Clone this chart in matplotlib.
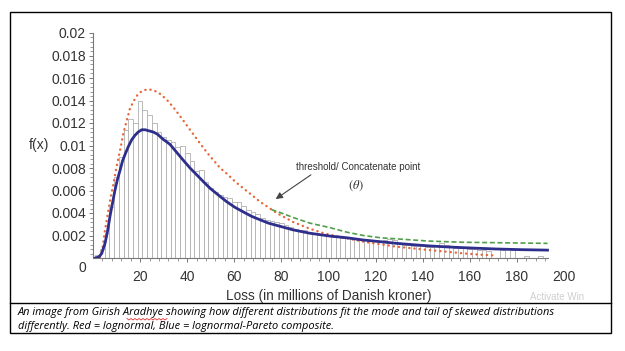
import numpy as np
import matplotlib
matplotlib.use("Agg")
import matplotlib.pyplot as plt
from matplotlib.ticker import FixedLocator
from matplotlib.patches import Rectangle
from matplotlib.lines import Line2D

plt.rcParams['font.family'] = ['Liberation Sans', 'DejaVu Sans']
plt.rcParams['mathtext.fontset'] = 'stix'

# histogram of losses (bin centres every 2 million DKK)
bin_centers = list(range(2, 192, 2))
bin_heights = [
    0.0003, 0.0008, 0.0022, 0.0045, 0.0072, 0.0090, 0.0114, 0.0124, 0.0120, 0.0140,
    0.0132, 0.0127, 0.0120, 0.0112, 0.0108, 0.0105, 0.0103, 0.0099, 0.0100, 0.0093,
    0.0086, 0.0077, 0.0078, 0.0068, 0.0062, 0.0059, 0.0056, 0.0054, 0.0053, 0.0050,
    0.0050, 0.0046, 0.0043, 0.0041, 0.0039, 0.0036, 0.0034, 0.0033, 0.0032, 0.0031,
    0.0029, 0.0028, 0.0026, 0.0025, 0.0025, 0.0023, 0.0022, 0.0021, 0.0021, 0.0020,
    0.0019, 0.0019, 0.0018, 0.0018, 0.0017, 0.0017, 0.0016, 0.0016, 0.0015, 0.0015,
    0.0015, 0.0016, 0.0017, 0.0016, 0.0013, 0.0012, 0.0012, 0.0011, 0.0011, 0.0011,
    0.0010, 0.0010, 0.0012, 0.0013, 0.0012, 0.0010, 0.0009, 0.0009, 0.0009, 0.0008,
    0.0008, 0.0007, 0.0007, 0.0006, 0.0, 0.0, 0.0007, 0.0, 0.0007, 0.0,
    0.0, 0.0002, 0.0, 0.0, 0.0002,
]

# lognormal-Pareto composite (blue)
blue_x = [1.0, 2.5, 3.7, 5.1, 6.2, 7.2, 8.3, 9.3, 10.4, 11.5, 12.5, 13.6, 15.0, 16.4,
          17.8, 19.2, 20.7, 22.1, 23.8, 25.6, 27.4, 29.5, 32.7, 35.5, 38.3, 41.2, 44.0,
          46.8, 49.7, 53.2, 56.8, 60.3, 63.8, 67.4, 70.9, 74.5, 78.0, 85.0, 92.1, 100.6,
          107.7, 114.8, 122.0, 129.0, 136.0, 143.0, 150.0, 157.0, 164.0, 171.4, 182.0, 193.0]
blue_y = [0.0, 0.0001, 0.0004, 0.0013, 0.0024, 0.0037, 0.0049, 0.0060, 0.0070, 0.0078,
          0.0086, 0.0092, 0.0099, 0.0105, 0.0109, 0.0112, 0.0114, 0.0114, 0.0113, 0.0112,
          0.0110, 0.0106, 0.0101, 0.0094, 0.0087, 0.0080, 0.0074, 0.0068, 0.0062, 0.0056,
          0.0050, 0.0045, 0.0041, 0.0037, 0.0034, 0.0031, 0.0029, 0.0025, 0.0022, 0.00195,
          0.0018, 0.0016, 0.00145, 0.0013, 0.00118, 0.00107, 0.00099, 0.00092, 0.00086,
          0.0008, 0.00074, 0.0007]

# lognormal (red)
red_x = [3.0, 4.0, 5.1, 6.5, 7.6, 8.6, 9.7, 10.8, 11.9, 12.9, 14.3, 15.7, 17.4, 19.2,
         21.3, 23.5, 25.9, 28.4, 31.2, 34.1, 37.0, 39.8, 42.6, 45.4, 48.3, 51.1, 54.0,
         56.8, 60.3, 63.8, 67.4, 70.9, 74.5, 78.0, 81.5, 85.0, 92.1, 98.0, 104.2, 114.8,
         122.0, 129.0, 136.0, 143.0, 150.0, 157.0, 164.0, 170.7]
red_y = [0.0001, 0.0008, 0.0025, 0.0042, 0.0055, 0.0065, 0.0078, 0.0089, 0.0100, 0.0111,
         0.0122, 0.0133, 0.0140, 0.0146, 0.0149, 0.0150, 0.0149, 0.0146, 0.0141, 0.0134,
         0.0126, 0.0118, 0.0110, 0.0102, 0.0094, 0.0087, 0.0080, 0.0075, 0.0068, 0.0062,
         0.0056, 0.0050, 0.0045, 0.0040, 0.0036, 0.0032, 0.0026, 0.0022, 0.0019, 0.00145,
         0.00122, 0.0010, 0.00085, 0.0007, 0.00056, 0.00042, 0.0003, 0.00022]

# Pareto tail above the threshold (green)
green_x = [75.8, 80.0, 85.0, 92.1, 100.6, 107.7, 114.8, 122.0, 129.0, 136.0, 143.0,
           157.0, 171.4, 193.0]
green_y = [0.0043, 0.0040, 0.0036, 0.0031, 0.0027, 0.0023, 0.0020, 0.0018, 0.0017,
           0.0016, 0.0015, 0.0014, 0.00136, 0.0013]

x_ticks = [20, 40, 60, 80, 100, 120, 140, 160, 180, 200]
y_ticks = [0.002, 0.004, 0.006, 0.008, 0.01, 0.012, 0.014, 0.016, 0.018, 0.02]
y_labels = ["0.002", "0.004", "0.006", "0.008", "0.01", "0.012", "0.014", "0.016", "0.018", "0.02"]

fig = plt.figure(figsize=(6.25, 3.51), dpi=100)
ax = fig.add_axes([93 / 625, 1 - 258 / 351, 471 / 625, 225 / 351])

hx = [c for c, h in zip(bin_centers, bin_heights) if h > 0]
hy = [h for h in bin_heights if h > 0]
ax.bar(hx, hy, width=2, facecolor='white', edgecolor='#b0b0b0', linewidth=0.6, zorder=1)

ax.plot(red_x, red_y, color='#e6683a', lw=1.7, linestyle=(0, (0.1, 2.1)),
        dash_capstyle='round', zorder=3)
ax.plot(green_x, green_y, color='#4f9f4a', lw=1.2, linestyle=(0, (3, 1.6)), zorder=3)
ax.plot(blue_x, blue_y, color='#2e2e8c', lw=2.0, zorder=4)

ax.set_xlim(0, 200)
ax.set_ylim(0, 0.02)
for s in ['top', 'right']:
    ax.spines[s].set_visible(False)
ax.spines['bottom'].set_bounds(0, 193)
ax.spines['left'].set_color('#777777')
ax.spines['bottom'].set_color('#777777')
ax.spines['left'].set_linewidth(0.8)
ax.spines['bottom'].set_linewidth(0.8)

ax.set_xticks(x_ticks)
ax.xaxis.set_minor_locator(FixedLocator(np.arange(4, 193, 4)))
ax.set_yticks(y_ticks)
ax.set_yticklabels(y_labels)
ax.yaxis.set_minor_locator(FixedLocator(np.arange(0.0004, 0.0201, 0.0004)))
ax.tick_params(axis='both', which='major', length=3, width=0.7, color='#777777',
               labelsize=10, labelcolor='#333333')
ax.tick_params(axis='both', which='minor', length=2, width=0.6, color='#888888')
ax.tick_params(axis='x', which='major', pad=5.5)
ax.tick_params(axis='y', which='major', pad=2)
ax.xaxis.get_major_ticks()[-1].tick1line.set_visible(False)

ax.annotate('0', xy=(0, 0), xytext=(-5, -2), textcoords='offset points',
            ha='right', va='top', fontsize=10, color='#333333')
ax.text(-0.115, 0.5, 'f(x)', transform=ax.transAxes, ha='center', va='center',
        fontsize=10, color='#333333')
ax.set_xlabel('Loss (in millions of Danish kroner)', fontsize=9.8, color='#333333', labelpad=4)

ax.annotate('', xy=(76.6, 0.0051), xytext=(93.5, 0.00753),
            arrowprops=dict(arrowstyle='-|>', color='#444444', lw=0.8, mutation_scale=10))
ax.text(86.2, 0.0081, 'threshold/ Concatenate point', fontsize=7, color='#333333',
        ha='left', va='center')
ax.text(111.7, 0.0064, r'$(\theta)$', fontsize=9, color='#333333', ha='center', va='center')

# frame and caption
fig.add_artist(Rectangle((10 / 625, 1 - 333 / 351), 601 / 625, 321 / 351, fill=False,
                         lw=1.0, edgecolor='black', transform=fig.transFigure))
fig.add_artist(Line2D([10 / 625, 611 / 625], [1 - 303 / 351] * 2, lw=1.0, color='black',
                      transform=fig.transFigure))
fig.text(530 / 625, 1 - 297 / 351, 'Activate Win', fontsize=7, color='#cfcfcf',
         ha='left', va='center')
cap_font = dict(family=['Open Sans', 'DejaVu Sans'], style='italic', fontsize=7.9, color='black')
fig.text(18 / 625, 1 - 313 / 351,
         'An image from Girish Aradhye showing how different distributions fit the mode and tail of skewed distributions',
         ha='left', va='center', **cap_font)
fig.text(18 / 625, 1 - 326 / 351,
         'differently. Red = lognormal, Blue = lognormal-Pareto composite.',
         ha='left', va='center', **cap_font)

# spell-check squiggle under the name
sq_x = np.linspace(127, 167, 21)
sq_y = np.where(np.arange(21) % 2 == 0, 318.5, 320.0)
fig.add_artist(Line2D(sq_x / 625, 1 - sq_y / 351, lw=0.6, color='#e03030',
                      transform=fig.transFigure))

fig.savefig('out.png', dpi=100)
